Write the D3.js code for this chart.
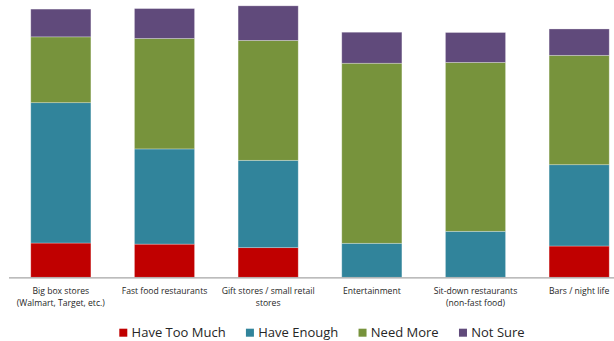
<!DOCTYPE html>
<html>
<head>
<meta charset="utf-8">
<script src="https://cdn.jsdelivr.net/npm/d3@7"></script>
<style>
  body { margin: 0; background: #fff; }
  text { font-family: "Open Sans", sans-serif; fill: #262626; }
</style>
</head>
<body>
<div id="chart"></div>
<script>
// categories (label lines)
var categories = [
  ["Big box stores", "(Walmart, Target, etc.)"],
  ["Fast food restaurants"],
  ["Gift stores / small retail", "stores"],
  ["Entertainment"],
  ["Sit-down restaurants", "(non-fast food)"],
  ["Bars / night life"]
];
var seriesNames = ["Have Too Much", "Have Enough", "Need More", "Not Sure"];
var seriesColors = ["#c00000", "#31849b", "#77933c", "#604a7b"];

// percent values per category
var haveTooMuch = [12.6, 12.2, 10.9, 0, 0, 11.5];
var haveEnough  = [51.6, 35.0, 32.1, 12.5, 16.9, 29.9];
var needMore    = [24.2, 40.6, 44.1, 66.2, 62.1, 40.2];
var notSure     = [10.2, 11.0, 12.7, 11.4, 11.0, 9.7];

var width = 614, height = 341;

var svg = d3.select("#chart")
  .append("svg")
  .attr("width", width)
  .attr("height", height);

var rows = categories.map(function (c, i) {
  return {
    key: i,
    "Have Too Much": haveTooMuch[i],
    "Have Enough": haveEnough[i],
    "Need More": needMore[i],
    "Not Sure": notSure[i]
  };
});

var stack = d3.stack().keys(seriesNames)(rows);

var x = d3.scaleBand()
  .domain(d3.range(categories.length))
  .range([9, 631])
  .paddingInner(0.42)
  .paddingOuter(0.21);

var y = d3.scaleLinear()
  .domain([0, 100])
  .range([277.3, 5.3]);

var color = d3.scaleOrdinal().domain(seriesNames).range(seriesColors);

// bars
svg.append("g")
  .selectAll("g")
  .data(stack)
  .enter()
  .append("g")
  .attr("fill", function (d) { return color(d.key); })
  .selectAll("rect")
  .data(function (d) { return d; })
  .enter()
  .append("rect")
  .attr("x", function (d, i) { return x(i); })
  .attr("y", function (d) { return y(d[1]); })
  .attr("width", x.bandwidth())
  .attr("height", function (d) { return y(d[0]) - y(d[1]); })
  .attr("stroke", "rgba(255,255,255,0.35)")
  .attr("stroke-width", 0.8);

// x axis line
svg.append("line")
  .attr("x1", 9).attr("x2", width)
  .attr("y1", y(0) + 0.5).attr("y2", y(0) + 0.5)
  .attr("stroke", "#a6a6a6")
  .attr("stroke-width", 1.3);

// category labels
var labels = svg.append("g")
  .selectAll("text")
  .data(categories)
  .enter()
  .append("text")
  .attr("text-anchor", "middle")
  .attr("font-size", 8.6)
  .attr("x", function (d, i) { return x(i) + x.bandwidth() / 2; })
  .attr("y", 294);

labels.selectAll("tspan")
  .data(function (d) { return d; })
  .enter()
  .append("tspan")
  .attr("x", function () { return d3.select(this.parentNode).attr("x"); })
  .attr("dy", function (d, i) { return i === 0 ? 0 : 12; })
  .text(function (d) { return d; });

// legend
var legend = svg.append("g");
var lx = 119.3;
seriesNames.forEach(function (name, i) {
  legend.append("rect")
    .attr("x", lx)
    .attr("y", 328.7)
    .attr("width", 8)
    .attr("height", 8)
    .attr("fill", seriesColors[i]);
  var t = legend.append("text")
    .attr("x", lx + 12.3)
    .attr("y", 337.3)
    .attr("font-size", 13)
    .text(name);
  lx += 12.3 + t.node().getComputedTextLength() + 20.3;
});
</script>
</body>
</html>
